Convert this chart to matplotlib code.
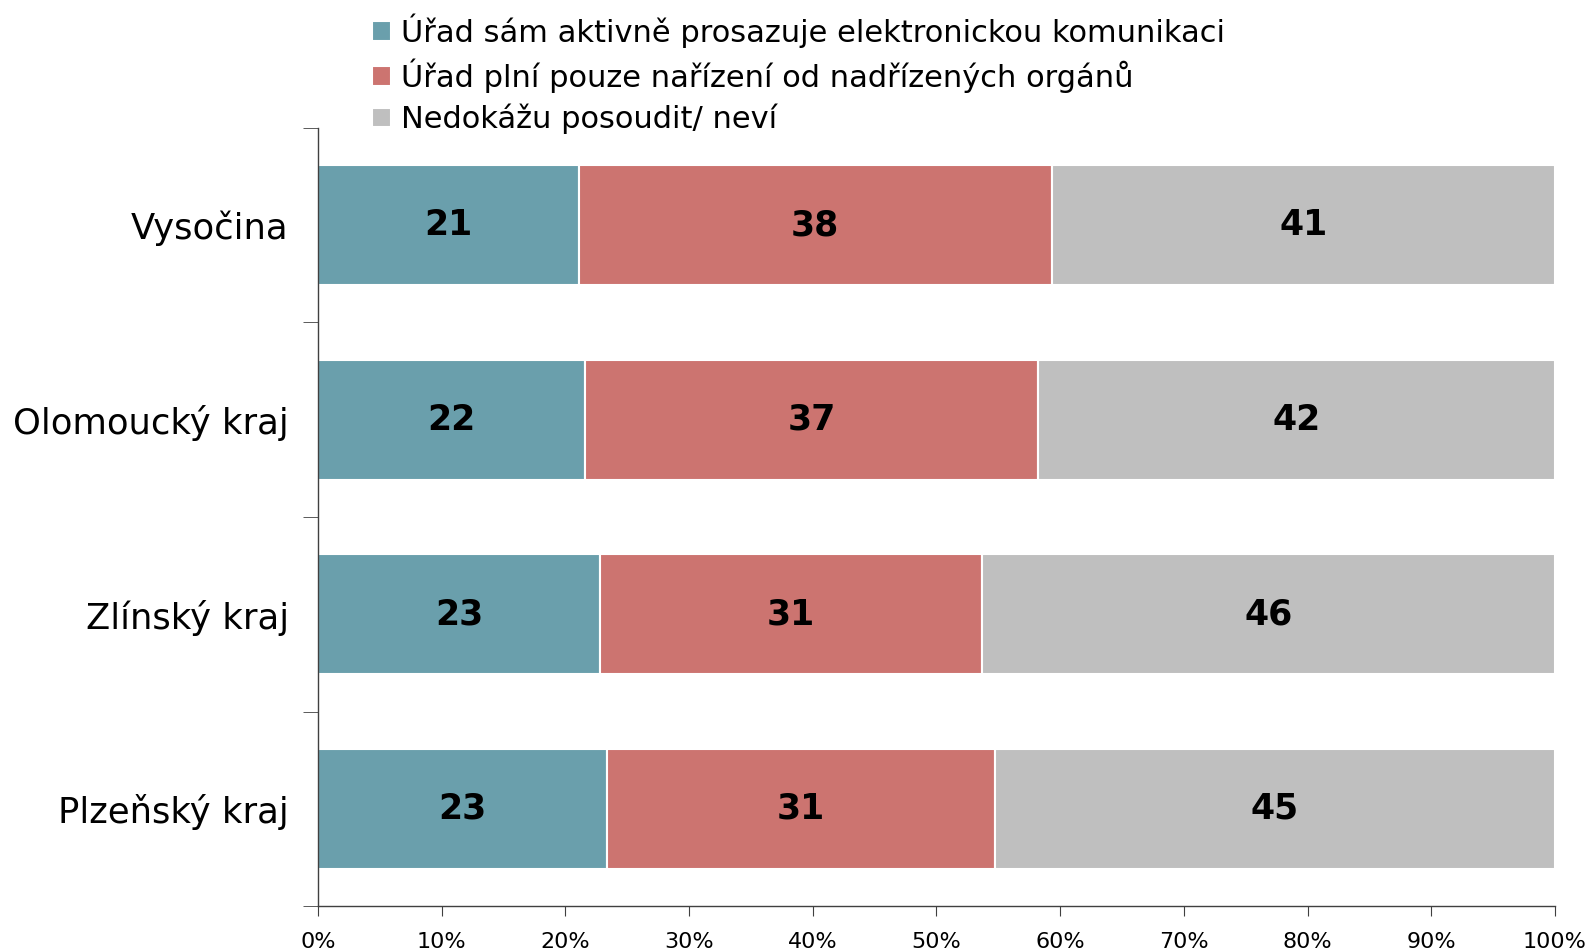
import matplotlib.pyplot as plt
import numpy as np

regions = ["Vysočina", "Olomoucký kraj", "Zlínský kraj", "Plzeňský kraj"]
series_names = [
    "Úřad sám aktivně prosazuje elektronickou komunikaci",
    "Úřad plní pouze nařízení od nadřízených orgánů",
    "Nedokážu posoudit/ neví",
]
active = [21.1, 21.6, 22.8, 23.4]
orders_only = [38.2, 36.6, 30.9, 31.3]
dont_know = [40.7, 41.8, 46.3, 45.3]
colors = ["#6A9FAC", "#CC7470", "#BFBFBF"]

fig = plt.figure(figsize=(15.94, 9.5), dpi=100)
ax = fig.add_axes([0.1995, 0.0463, 0.7760, 0.8190])

y = np.arange(len(regions))
left = np.zeros(len(regions))
for vals, name, col in zip([active, orders_only, dont_know], series_names, colors):
    vals = np.array(vals)
    ax.barh(y, vals, left=left, height=0.616, color=col, edgecolor="white",
            linewidth=1.5, label=name)
    for yi, l, v in zip(y, left, vals):
        ax.text(l + v / 2, yi, f"{v:.0f}", ha="center", va="center",
                fontsize=25, fontweight="bold", color="black")
    left += vals

ax.set_xlim(0, 100)
ax.set_ylim(len(regions) - 0.5, -0.5)
ax.set_xticks(np.arange(0, 101, 10))
ax.set_xticklabels([f"{t}%" for t in range(0, 101, 10)], fontsize=16)
ax.tick_params(axis="x", direction="out", length=7, color="#404040", pad=12)

# category labels in the middle, tick marks on the boundaries
ax.set_yticks(y)
ax.set_yticklabels(regions, fontsize=25.5)
ax.tick_params(axis="y", which="major", length=0, pad=21)
ax.set_yticks(np.arange(-0.5, len(regions), 1.0), minor=True)
ax.tick_params(axis="y", which="minor", direction="out", length=11, color="#404040")

for side in ["top", "right"]:
    ax.spines[side].set_visible(False)
for side in ["left", "bottom"]:
    ax.spines[side].set_color("#404040")
    ax.spines[side].set_linewidth(1.0)

handles, labels = ax.get_legend_handles_labels()
fig.legend(handles, labels, loc="upper left", bbox_to_anchor=(0.226, 0.999),
           frameon=False, fontsize=22, handlelength=0.6, handleheight=0.6,
           handletextpad=0.35, labelspacing=0.35, borderaxespad=0)

fig.savefig("out.png", dpi=100)
